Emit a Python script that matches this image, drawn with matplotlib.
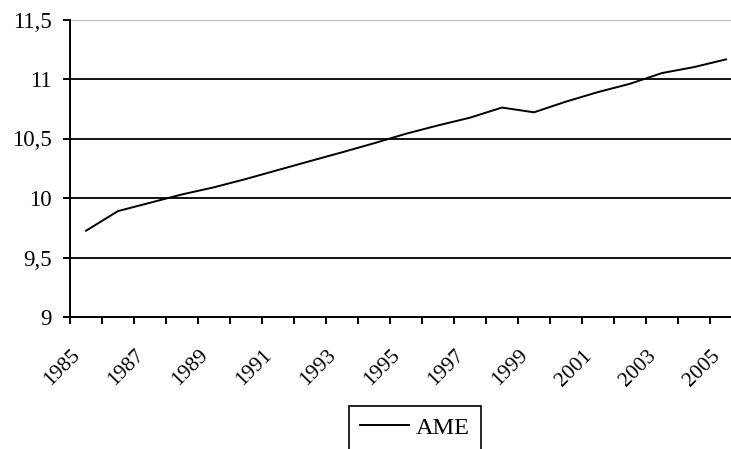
import matplotlib.pyplot as plt
from matplotlib.ticker import FixedLocator, FuncFormatter

# yearly AME series
years = list(range(1985, 2006))
ame = [9.725, 9.89, 9.96, 10.03, 10.09, 10.16, 10.235, 10.31, 10.384, 10.46,
       10.54, 10.61, 10.675, 10.76, 10.72, 10.81, 10.89, 10.96, 11.05, 11.10,
       11.165]
yticks = [9, 9.5, 10, 10.5, 11, 11.5]

plt.rcParams['font.family'] = ['Liberation Serif', 'DejaVu Serif']

fig = plt.figure(figsize=(7.31, 4.49), dpi=100)
W, H = 731.0, 449.0
ax = fig.add_axes([70 / W, (H - 317) / H, 672 / W, (317 - 19.5) / H])

x = list(range(len(years)))
line, = ax.plot(x, ame, color='black', linewidth=1.4, label='AME')

ax.set_xlim(-0.5, len(years) - 0.5)
ax.set_ylim(9, 11.5)

for v in yticks[1:-1]:
    ax.axhline(v, color='black', linewidth=1.3, zorder=0)
ax.axhline(11.5, color='#c0c0c0', linewidth=1.0, zorder=0)

ax.spines['top'].set_visible(False)
ax.spines['right'].set_visible(False)
for s in ('left', 'bottom'):
    ax.spines[s].set_linewidth(1.4)

ax.set_yticks(yticks)
ax.yaxis.set_major_formatter(FuncFormatter(lambda v, p: ('%g' % v).replace('.', ',')))
ax.tick_params(axis='y', length=5, width=1.4, labelsize=16.5, pad=8)

# tick marks between categories, labels on every other year
ax.xaxis.set_major_locator(FixedLocator([i - 0.5 for i in range(len(years) + 1)]))
ax.tick_params(axis='x', length=5, width=1.4, labelbottom=False)
for i, yr in enumerate(years):
    if i % 2 == 0:
        ax.annotate(str(yr), xy=(i, 9), xycoords='data', xytext=(-11, -21),
                    textcoords='offset points', rotation=45, ha='right', va='top',
                    rotation_mode='anchor', fontsize=15.5, annotation_clip=False)

leg = fig.legend(handles=[line], loc='upper left', bbox_to_anchor=(349 / W, 1 - 406 / H),
                 frameon=True, fancybox=False, edgecolor='black', fontsize=17.5,
                 handlelength=2.0, handletextpad=0.3, borderpad=0.45,
                 borderaxespad=0, framealpha=1)
leg.get_frame().set_linewidth(1.2)

fig.savefig('out.png', dpi=100)
